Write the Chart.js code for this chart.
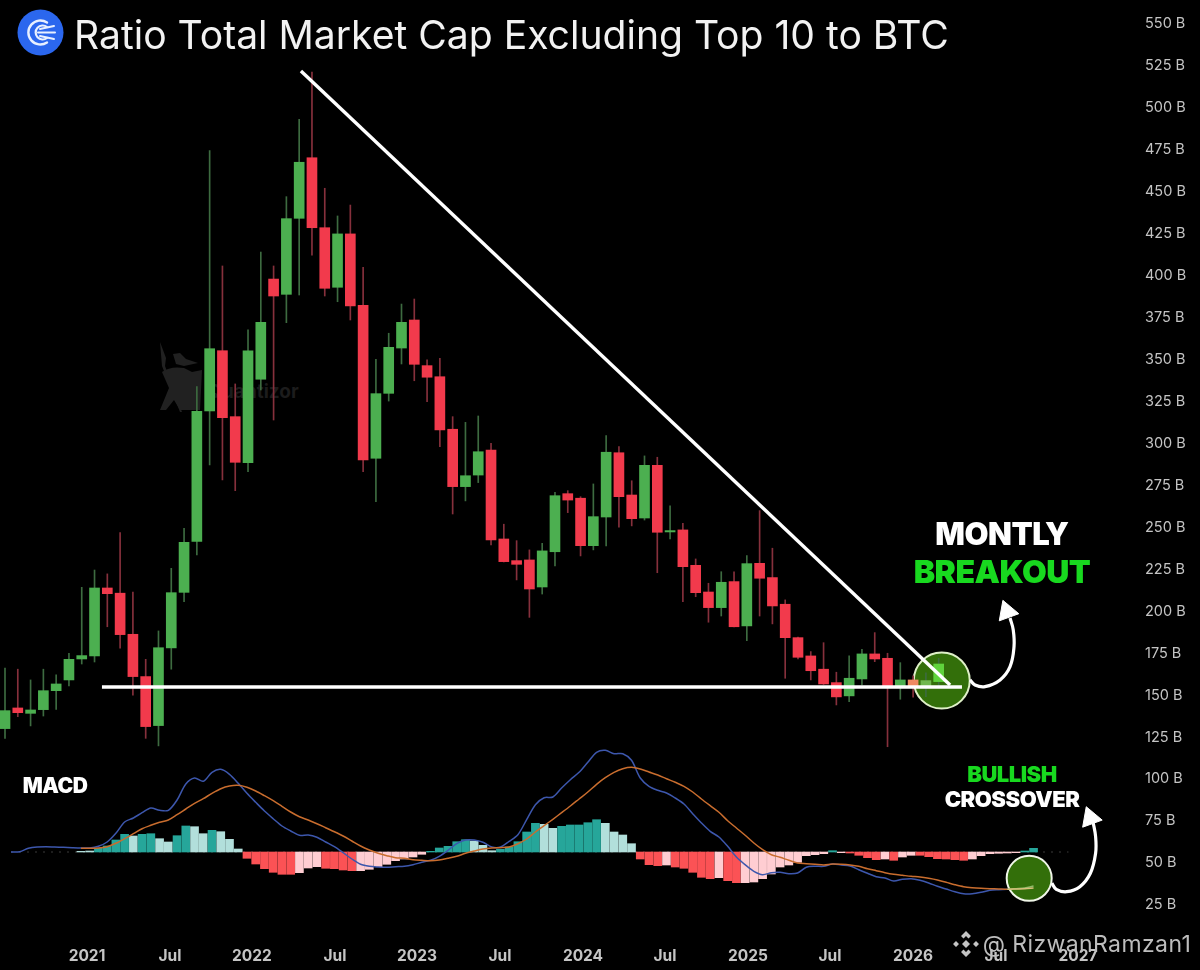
<!doctype html>
<html>
<head>
<meta charset="utf-8"/>
<title>Ratio Total Market Cap Excluding Top 10 to BTC</title>
<script src="https://cdn.jsdelivr.net/npm/chart.js@4/dist/chart.umd.min.js"></script>
<style>
    html, body { margin: 0; padding: 0; background: #000; }
    #wrap { position: relative; width: 1200px; height: 970px; overflow: hidden; background: #000; font-family: Inter, Roboto, sans-serif; }
    canvas { position: absolute; left: 0; top: 0; z-index: 2; }
    .txt { position: absolute; z-index: 3; white-space: nowrap; transform: translate(-50%, -50%); }
    .heavy { font-weight: 900; letter-spacing: -0.5px; }
    #title { left: 74px; top: 34px; transform: translate(0, -50%); font-size: 39.1px; color: #f2f2f2; font-weight: 400; }
    #wm { z-index: 1; left: 253px; top: 391px; font-size: 19px; font-weight: 700; color: #1c1c1c; }
    #handle { left: 1087px; top: 944px; font-size: 23px; color: #bdbdbd; font-weight: 400; letter-spacing: 0.4px; }
    svg { position: absolute; }
</style>
</head>
<body>
<div id="wrap">
    <svg style="left:156px;top:338px;z-index:1" width="60" height="78" viewBox="0 0 60 78" fill="#212121">
        <path d="M4 4 L10 20 L9 28 L26 74 L24 74 L6 28 Z"/>
        <path d="M17 16 L24 15 L30 21 L42 25 L28 28 L20 26 Z"/>
        <path d="M6 34 Q14 28 28 30 L36 34 L46 32 L44 72 L24 72 L18 62 L10 72 L4 72 L13 50 Z"/>
    </svg>
    <svg style="left:17px;top:9px;z-index:3" width="47" height="47" viewBox="0 0 47 47">
        <circle cx="23.5" cy="23.5" r="23" fill="#2b67ee"/>
        <path d="M30 13.5 A12 12 0 1 0 30 33.5" fill="none" stroke="#e8f0ff" stroke-width="2.4" stroke-linecap="round"/>
        <path d="M30 18 A7 7 0 1 0 30 29" fill="none" stroke="#e8f0ff" stroke-width="2.2" stroke-linecap="round"/>
        <path d="M21 23.5 H38 M23 20 L37 17 M23 27 L37 30" fill="none" stroke="#e8f0ff" stroke-width="2" stroke-linecap="round"/>
    </svg>
    <svg style="left:952px;top:930px;z-index:3" width="28" height="28" viewBox="0 0 28 28" fill="#c4c4c4">
        <path d="M14 1 L19 6 L16.5 8.5 L14 6 L11.5 8.5 L9 6 Z M14 27 L9 22 L11.5 19.5 L14 22 L16.5 19.5 L19 22 Z M1 14 L4 11 L7 14 L4 17 Z M27 14 L24 11 L21 14 L24 17 Z M14 10 L18 14 L14 18 L10 14 Z"/>
    </svg>
    <canvas id="chart" width="1200" height="970"></canvas>
    <div class="txt" id="title">Ratio Total Market Cap Excluding Top 10 to BTC</div>
    <div class="txt" id="wm">Quantizor</div>
    <div class="txt heavy" style="left:1002px;top:533px;font-size:31px;color:#fff">MONTLY</div>
    <div class="txt heavy" style="left:1002px;top:571px;font-size:32px;color:#18d91f">BREAKOUT</div>
    <div class="txt heavy" style="left:55px;top:785px;font-size:21px;color:#fff">MACD</div>
    <div class="txt heavy" style="left:1012px;top:774px;font-size:22px;color:#18d91f">BULLISH</div>
    <div class="txt heavy" style="left:1012px;top:799px;font-size:22px;color:#fff">CROSSOVER</div>
    <div class="txt" id="handle">@ RizwanRamzan1</div>
</div>

<script>
// price candles, in billions, one per period
var opens = [128.9,141.2,138,140.2,151.5,157.9,170.4,172.2,212.7,209.6,185.1,159.9,130.7,177,210.1,240.5,318.2,354.1,314.8,287.4,337.1,396.8,387.7,433,469.1,427.4,391.9,423.7,381.1,290,328.7,355.7,372.4,345.2,338.6,307.3,273.1,280,294.9,241.9,229,229.4,213.3,234.3,268.9,266.2,237.9,255,293.3,268.1,254.4,285.8,246.1,247.3,226.2,210.3,201,216.5,190.1,227.4,218.9,203,183.1,172.2,164.3,156.3,148.4,158.5,173.4,170.8,154.3,157.9,154.3,156.9];
var closes = [139.6,138.4,140,151.5,155.5,170.2,172.4,212.7,209.3,184.9,159.9,130.1,177.1,209.9,239.9,318,355.3,314.2,287.6,354.1,371,386.7,432.8,466.4,427.4,391.3,423.7,380.8,289,328.5,356.1,371,346,338.3,306.9,273.1,279.6,293.9,241.3,228.4,226.8,212.1,234.8,267.7,265.1,237.9,255.2,293.6,267.1,254,285.8,245.9,246.9,225.4,209.9,201,216.1,189.6,227.2,218.5,202,183.1,171.4,163.4,155.5,147.8,158.9,173.4,170.4,154.3,157.9,154.3,157.5,167.4];
var highs = [164.9,164.3,157.9,164.3,160.9,173.8,213.1,223.4,221.1,245.7,210.3,170.2,187.1,224.4,248.3,332.7,473.3,404.6,334.3,366.5,412.9,404.6,445.9,492,520.2,450.9,434.4,440.9,403.8,349,364.5,381.9,384.9,348.6,349.6,314.8,311.4,315.2,298.9,250.7,240.9,235.4,239.3,269.7,270.7,267.1,274.7,303.5,296.9,276.6,291.4,290.6,261.6,251.3,230,215.5,222.4,222.4,232,258.8,236.4,205.6,183.5,174.8,180.1,162.5,172.2,176.2,186.1,173.8,168.2,160.3,162.2,170.8];
var lows = [123.1,136,130.5,136.4,140.4,154.3,167.4,168.6,189.6,176.8,148.8,123.1,118.6,164.3,204.5,232.4,286,277.1,270.7,282,330.7,312.8,370.8,387.3,411.1,386.7,383.3,372.4,282,264.1,324.1,346.2,336.2,323.7,296.9,256.8,264.6,275.5,238.3,228.2,217.5,195.2,209.1,225.8,257.6,231.8,235.4,237.7,248.9,249.7,253.2,221.8,241.9,204.5,207.5,192.3,196,189.5,181.3,196,191.3,158.9,170.4,157.9,155.2,143,145,154.9,168.8,118.1,146.4,147.6,147.9,154.3];

// x axis labels sit between candles, so they get their own positions (candle index)
var xTickPos = [6.41,12.9,19.31,25.8,32.21,38.7,45.19,51.6,58.09,64.5,70.99,77.48,83.89];
var xTickLabels = ['2021','Jul','2022','Jul','2023','Jul','2024','Jul','2025','Jul','2026','Jul','2027'];
var yTicks = [25,50,75,100,125,150,175,200,225,250,275,300,325,350,375,400,425,450,475,500,525,550];

// MACD panel, relative units, one per MACD period
var macdLine = [0,0.3,3.7,5,5.3,5,4.7,4.3,4,4,5.7,10,18.7,30,34,39.3,44,41.7,41.7,52,68,74,70.7,79.7,82.7,77.7,68.7,58.7,49.7,41,33.3,26,21,16.7,17,14.7,10,5.3,-0.7,-7,-12.3,-14.3,-15,-15.3,-14.7,-14.3,-12.7,-10.3,-8.3,-4.3,1.7,8.3,12,12,9.7,5,5,10.7,17.3,32.3,47.3,54.3,55,64,72.3,79.7,89.7,99.7,101.7,98.3,98.3,91.7,74,65.7,61.7,59,54,48,38.3,29,20.7,15,5.7,-5,-12.7,-19.3,-22.7,-20.7,-20.3,-21.7,-21,-15.3,-14.3,-14.3,-12,-13,-14,-17.7,-21.3,-24.7,-26,-29,-27.3,-26.7,-28.3,-31,-34.3,-37,-39.7,-41.7,-41.7,-40.3,-38.3,-37.7,-37.3,-36.7,-36,-34];
var signalLine = [null,null,null,null,null,null,null,null,3.7,3.7,4,5.3,8.7,13.3,18.3,23.3,26.7,29.7,32,37.3,43,48.7,53.3,58.7,63.3,66,66.7,64.7,61,56.3,51.3,45.7,40,35.3,32,28.3,24.3,20.3,16,11,6,2,-1.3,-3.7,-5.7,-6.3,-7.7,-8.3,-8.7,-8,-6.3,-4.3,-1.3,1,3,4,4.3,5,8.3,13,20,26.3,32.7,39.3,46,53,60,67.7,74.3,79.7,83.3,84.7,83,80,77,73.3,69.7,65.7,60,53,46.3,39.7,31.3,24,16.7,9,2.3,-2.7,-5.3,-8.3,-11,-11.7,-12.3,-13,-12,-12.3,-13,-14.3,-16.7,-18.7,-20.7,-22.3,-23.3,-24.3,-25,-26.3,-28,-30.3,-32.7,-34.7,-35.7,-36.3,-36.7,-37,-37.3,-37,-36.7,-36];
var histValues = [null,null,null,null,null,null,null,null,0.7,1,3.7,6,12,17.7,16,17.7,18.3,13.3,10,16.3,26,25.3,18.3,21.7,20.3,12.7,3,-6.3,-12,-16.7,-20.3,-22.3,-22.3,-20.7,-16,-14.7,-16.3,-16.7,-18,-18.7,-18.7,-17.3,-14.7,-12.3,-8.7,-7,-5,-2.3,0.7,4,5.7,10.3,12.3,11,6.7,1.3,2.7,5,10.3,20,28.7,27.7,23.7,25.7,27,27,29.3,32.3,28.7,20,17,8.3,-7,-12.7,-13.7,-13,-15,-16.3,-20.3,-25.3,-26.7,-25.7,-28.7,-30.7,-30.7,-30,-26.7,-22,-15,-13,-10.3,-3.7,-2.7,-1.7,1.3,-0.7,-1,-3.3,-5.7,-7.7,-7,-8.3,-5,-3.3,-3.3,-4.7,-6.7,-7,-7.7,-8.3,-7,-3.7,-1.7,-1.3,-1,-0.7,1,3.7];
// bars drawn in the pale shade
var histPale = [8,9,14,17,18,21,22,24,25,26,33,34,35,40,41,42,43,44,45,46,47,53,54,55,61,62,68,69,70,71,75,81,84,85,86,87,88,89,90,91,92,93,95,100,102,103,110,111,112,113,114,115];

// drawn lines, in axis units
var resistanceX = [23.14,73.89];
var resistanceY = [520.8,154.9];
var supportX = [7.58,74.82];
var supportY = [153.7,153.7];
var breakoutCircle = [{x:73.24,y:157.5}];
var crossCircle = [{x:116.5,y:-26.3}];
var arrowOneX = [75.45,75.84,76.62,77.8,78.58,78.89,78.83,78.58];
var arrowOneY = [157.9,154.9,153.9,157.9,165.8,177.7,187.7,194.8];
var arrowTwoX = [119.1,119.6,120.8,122.3,123.5,124.1,124.1,123.8];
var arrowTwoY = [-31.3,-37.3,-39.7,-34.7,-21.3,-1.3,15.3,30.3];

var UP = '#4caf50', DOWN = '#f23a4c', UP_WICK = '#3d6b40', DOWN_WICK = '#86303c';
var inCircle = {71: '#ee8a62', 72: '#71b84f', 73: '#60d23c'};

function pairs(xs, ys) {
    return xs.map(function (x, i) { return {x: x, y: ys[i]}; });
}

var bodies = opens.map(function (o, i) { return {x: i, y: [o, closes[i]]}; });
var wicks = lows.map(function (l, i) { return {x: i, y: [l, highs[i]]}; });
var bodyColors = opens.map(function (o, i) { return inCircle[i] || (closes[i] >= o ? UP : DOWN); });
var wickColors = opens.map(function (o, i) { return closes[i] >= o ? UP_WICK : DOWN_WICK; });
var histBars = [], histColors = [];
histValues.forEach(function (v, j) {
    if (v === null) return;
    histBars.push({x: j, y: v});
    var pale = histPale.indexOf(j) >= 0;
    histColors.push(v >= 0 ? (pale ? '#b2dfdb' : '#26a69a') : (pale ? '#ffcdd2' : '#fb5255'));
});
var zeroLine = [{x: 0, y: 0}, {x: 121, y: 0}];

function lineSet(data, color, width, order, extra) {
    return Object.assign({type: 'line', data: data, borderColor: color, borderWidth: width, pointRadius: 0, order: order, fill: false}, extra);
}

new Chart(document.getElementById('chart'), {
    type: 'bar',
    data: {
        datasets: [
            {type: 'bar', data: wicks, backgroundColor: wickColors, barThickness: 1, grouped: false, order: 40},
            {type: 'bar', data: bodies, backgroundColor: bodyColors, barThickness: 10, grouped: false, order: 30},
            lineSet(breakoutCircle, '#dff0c8', 2, 50, {showLine: false, pointRadius: 28, pointBackgroundColor: '#336f0a', pointBorderColor: '#dff0c8', pointBorderWidth: 2}),
            lineSet(pairs(resistanceX, resistanceY), '#ffffff', 3.4, 5),
            lineSet(pairs(supportX, supportY), '#ffffff', 3.4, 5),
            lineSet(pairs(arrowOneX, arrowOneY), '#ffffff', 3.2, 4, {tension: 0.4}),
            lineSet([{x: 78.34, y: 198.6}], '#ffffff', 1, 4, {showLine: false, pointRadius: 12, pointStyle: 'triangle', pointRotation: -20, pointBackgroundColor: '#fff'}),

            lineSet(zeroLine, '#3a3a3a', 1, 60, {xAxisID: 'xm', yAxisID: 'ym', borderDash: [2, 6]}),
            {type: 'bar', data: histBars, backgroundColor: histColors, barThickness: 8, grouped: false, order: 35, xAxisID: 'xm', yAxisID: 'ym'},
            lineSet(crossCircle, '#f0f6e8', 2, 25, {xAxisID: 'xm', yAxisID: 'ym', showLine: false, pointRadius: 22.5, pointBackgroundColor: '#336f0a', pointBorderColor: '#f0f6e8', pointBorderWidth: 2}),
            lineSet(macdLine.map(function (v, j) { return {x: j, y: v}; }), '#3d57ad', 1.5, 12, {xAxisID: 'xm', yAxisID: 'ym', tension: 0.3,
                segment: {borderColor: function (c) { return c.p0DataIndex >= 114 ? '#8fbb6a' : undefined; }}}),
            lineSet(signalLine.map(function (v, j) { return {x: j, y: v}; }), '#c96d2e', 1.5, 10, {xAxisID: 'xm', yAxisID: 'ym', tension: 0.3,
                segment: {borderColor: function (c) { return c.p0DataIndex >= 114 ? '#d8c07a' : undefined; }}}),
            lineSet(pairs(arrowTwoX, arrowTwoY), '#ffffff', 3.2, 4, {xAxisID: 'xm', yAxisID: 'ym', tension: 0.4}),
            lineSet([{x: 123.5, y: 34}], '#ffffff', 1, 4, {xAxisID: 'xm', yAxisID: 'ym', showLine: false, pointRadius: 12, pointStyle: 'triangle', pointRotation: -20, pointBackgroundColor: '#fff'})
        ]
    },
    options: {
        responsive: false,
        animation: false,
        layout: {padding: 0, autoPadding: false},
        plugins: {legend: {display: false}, tooltip: {enabled: false}},
        scales: {
            x: {
                type: 'linear', min: -0.391, max: 88.74, offset: false, bounds: 'data',
                grid: {display: false, offset: false}, border: {display: false},
                afterBuildTicks: function (axis) { axis.ticks = xTickPos.map(function (v) { return {value: v}; }); },
                afterFit: function (axis) { axis.height = 35; axis.paddingLeft = 0; axis.paddingRight = 0; },
                ticks: {
                    autoSkip: false, maxRotation: 0, padding: 4, color: '#c4c4c4',
                    font: {family: 'Inter', size: 15.5, weight: '700'},
                    callback: function (v, i) { return xTickLabels[i]; }
                }
            },
            y: {
                type: 'linear', position: 'right', min: 5.9, max: 563.1, beginAtZero: false, bounds: 'data',
                grid: {display: false, drawTicks: false}, border: {display: false},
                afterBuildTicks: function (axis) { axis.ticks = yTicks.map(function (v) { return {value: v}; }); },
                afterFit: function (axis) { axis.width = 60; axis.paddingTop = 0; axis.paddingBottom = 0; },
                ticks: {
                    autoSkip: false, padding: 5, labelOffset: 2, color: '#c4c4c4',
                    font: {family: 'Inter', size: 14.5},
                    callback: function (v) { return v + ' B'; }
                }
            },
            xm: {type: 'linear', display: false, min: -1.259, max: 129.18, offset: false, bounds: 'data', grid: {offset: false}},
            ym: {type: 'linear', display: false, min: -83, max: 852, beginAtZero: false, bounds: 'data'}
        }
    }
});
</script>
</body>
</html>
